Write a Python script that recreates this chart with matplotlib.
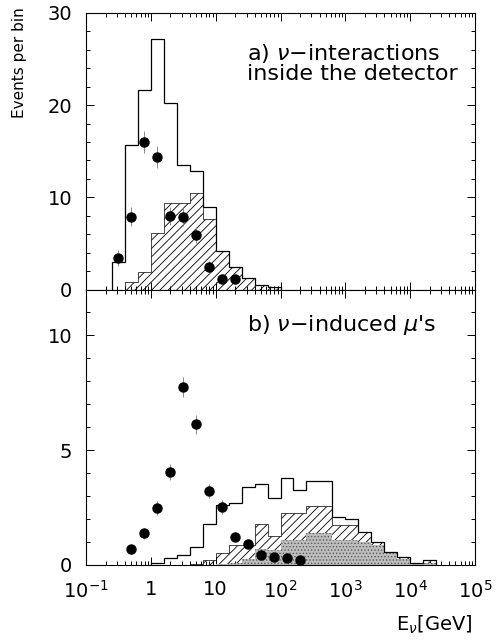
import numpy as np
import matplotlib
matplotlib.use("Agg")
import matplotlib.pyplot as plt
from matplotlib.ticker import FixedLocator, LogLocator, MultipleLocator, NullFormatter

plt.rcParams['font.family'] = ['DejaVu Sans']
plt.rcParams['mathtext.fontset'] = 'dejavusans'
plt.rcParams['hatch.linewidth'] = 0.6

# ---- a) neutrino interactions inside the detector ----
log_edges_a = [-0.6, -0.4, -0.2, 0.0, 0.2, 0.4, 0.6, 0.8, 1.0, 1.2, 1.4, 1.6, 1.8, 2.0]
mc_total_a = [3.0, 15.7, 21.6, 27.2, 20.2, 13.5, 12.9, 9.0, 4.2, 2.4, 1.3, 0.5, 0.3]
mc_hatched_a = [0.0, 0.8, 1.9, 6.1, 9.4, 9.4, 10.5, 7.7, 4.2, 2.4, 1.3, 0.5, 0.3]
log_centers_a = [-0.5, -0.3, -0.1, 0.1, 0.3, 0.5, 0.7, 0.9, 1.1, 1.3]
data_a = [3.4, 7.9, 16.0, 14.4, 8.0, 7.9, 5.9, 2.4, 1.1, 1.1]
err_a = [0.9, 1.0, 1.2, 1.2, 1.0, 1.0, 0.9, 0.7, 0.5, 0.5]

# ---- b) neutrino-induced muons ----
log_edges_b = [0.0, 0.2, 0.4, 0.6, 0.8, 1.0, 1.2, 1.4, 1.6, 1.8, 2.0, 2.2,
               2.4, 2.6, 2.8, 3.0, 3.2, 3.4, 3.6, 3.8, 4.0, 4.2, 4.4]
mc_total_b = [0.07, 0.29, 0.45, 0.8, 1.78, 2.6, 2.72, 3.4, 3.53, 2.92, 3.79,
              3.28, 3.64, 3.64, 2.07, 2.0, 1.42, 1.0, 0.58, 0.33, 0.07, 0.2]
mc_hatched_b = [0.0, 0.0, 0.0, 0.05, 0.2, 0.5, 0.85, 0.85, 1.8, 1.25, 2.28,
                2.28, 2.56, 2.56, 1.75, 1.75, 1.42, 1.0, 0.58, 0.33, 0.07, 0.2]
mc_dotted_b = [0.0, 0.0, 0.0, 0.0, 0.0, 0.05, 0.1, 0.25, 0.7, 0.65, 1.1,
               1.1, 1.4, 1.4, 1.1, 1.1, 1.0, 0.85, 0.5, 0.28, 0.05, 0.1]
log_centers_b = [-0.3, -0.1, 0.1, 0.3, 0.5, 0.7, 0.9, 1.1, 1.3, 1.5, 1.7, 1.9, 2.1, 2.3]
data_b = [0.68, 1.38, 2.49, 4.03, 7.75, 6.12, 3.22, 2.51, 1.23, 0.91, 0.42, 0.35, 0.29, 0.22]
err_b = [0.2, 0.25, 0.3, 0.35, 0.45, 0.4, 0.3, 0.3, 0.2, 0.2, 0.15, 0.15, 0.1, 0.1]

xtick_values = [1e-1, 1, 10, 1e2, 1e3, 1e4, 1e5]
xtick_labels = [r'$10^{-1}$', '1', '10', r'$10^{2}$', r'$10^{3}$', r'$10^{4}$', r'$10^{5}$']

fig = plt.figure(figsize=(5.0, 6.42), dpi=100)
left, width = 0.172, 0.778
ax_a = fig.add_axes([left, 0.549, width, 0.4308])
ax_b = fig.add_axes([left, 0.12, width, 0.429], sharex=ax_a)

def draw_panel(ax, log_edges, total, hatched, centers, data, err, dotted=None):
    edges = 10.0 ** np.asarray(log_edges)
    ax.stairs(hatched, edges, fill=True, facecolor='white', edgecolor='black',
              hatch='////', linewidth=0.5, zorder=1)
    if dotted is not None:
        ax.stairs(dotted, edges, fill=True, facecolor='#bdbdbd', edgecolor='#5a5a5a',
                  hatch='.....', linewidth=0.0, zorder=2)
    ax.stairs(total, edges, fill=False, edgecolor='black', linewidth=0.9,
              baseline=0, zorder=3)
    x = 10.0 ** np.asarray(centers)
    ax.errorbar(x, data, yerr=err, fmt='o', color='black', markersize=6.5,
                ecolor='#777777', elinewidth=0.6, capsize=0, zorder=4)

draw_panel(ax_a, log_edges_a, mc_total_a, mc_hatched_a, log_centers_a, data_a, err_a)
draw_panel(ax_b, log_edges_b, mc_total_b, mc_hatched_b, log_centers_b, data_b, err_b,
           dotted=mc_dotted_b)

for ax in (ax_a, ax_b):
    ax.set_xscale('log')
    ax.set_xlim(1e-1, 1e5)
    ax.xaxis.set_major_locator(FixedLocator(xtick_values))
    ax.xaxis.set_minor_locator(LogLocator(base=10, subs=np.arange(2, 10), numticks=20))
    ax.xaxis.set_minor_formatter(NullFormatter())
    ax.tick_params(which='both', direction='in', top=True, right=True,
                   width=0.7, labelsize=14, pad=6)
    ax.tick_params(axis='y', pad=10)
    ax.tick_params(which='major', length=6)
    ax.tick_params(which='minor', length=3)
    for sp in ax.spines.values():
        sp.set_linewidth(0.8)

ax_a.set_ylim(0, 30)
ax_a.yaxis.set_major_locator(FixedLocator([0, 10, 20, 30]))
ax_a.yaxis.set_minor_locator(MultipleLocator(2))
ax_a.tick_params(axis='x', labelbottom=False)

ax_b.set_ylim(0, 12)
ax_b.yaxis.set_major_locator(FixedLocator([0, 5, 10]))
ax_b.yaxis.set_minor_locator(MultipleLocator(1))
ax_b.set_xticks(xtick_values)
ax_b.set_xticklabels(xtick_labels)
ax_b.tick_params(axis='x', pad=11)

ax_a.text(0.414, 0.855, r'a) $\nu$−interactions', transform=ax_a.transAxes,
          fontsize=16, ha='left', va='center')
ax_a.text(0.414, 0.78, 'inside the detector', transform=ax_a.transAxes,
          fontsize=16, ha='left', va='center')
ax_b.text(0.414, 0.871, r"b) $\nu$−induced $\mu$'s", transform=ax_b.transAxes,
          fontsize=16, ha='left', va='center')

fig.text(0.04, 0.903, 'Events per bin', rotation=90, fontsize=11,
         ha='center', va='center')
fig.text(0.946, 0.026, r'E$_\nu$[GeV]', fontsize=14, ha='right', va='center')

fig.savefig('out.png', dpi=100)
